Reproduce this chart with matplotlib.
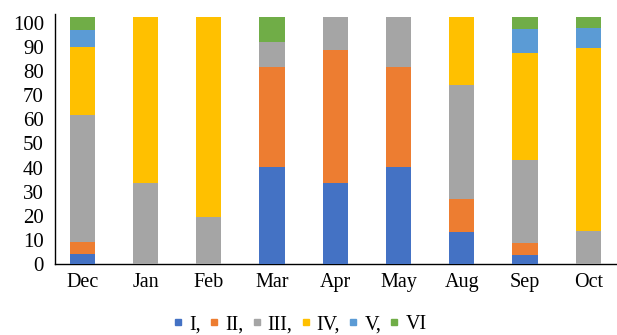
import matplotlib.pyplot as plt
from matplotlib.lines import Line2D
import numpy as np

plt.rcParams['font.family'] = 'Liberation Serif'

months = ['Dec', 'Jan', 'Feb', 'Mar', 'Apr', 'May', 'Aug', 'Sep', 'Oct']
groups = ['I,', 'II,', 'III,', 'IV,', 'V,', 'VI']

# share of each group per month (stacked bottom to top)
g1 = [4.1, 0.0, 0.0, 40.4, 33.5, 40.4, 13.2, 3.9, 0.0]
g2 = [5.1, 0.0, 0.0, 41.1, 55.1, 41.1, 13.8, 4.9, 0.0]
g3 = [52.5, 33.5, 19.7, 10.5, 13.6, 20.7, 47.1, 34.3, 13.9]
g4 = [28.0, 68.7, 82.5, 0.0, 0.0, 0.0, 28.1, 44.4, 75.6]
g5 = [7.4, 0.0, 0.0, 0.0, 0.0, 0.0, 0.0, 9.7, 8.4]
g6 = [5.1, 0.0, 0.0, 10.2, 0.0, 0.0, 0.0, 5.0, 4.3]

COLORS = ['#4472C4', '#ED7D31', '#A5A5A5', '#FFC000', '#5B9BD5', '#70AD47']

fig = plt.figure(figsize=(6.17, 3.35), dpi=100)
ax = fig.add_axes([0.0891, 0.211, 0.9085, 0.747])

x = np.arange(len(months))
bottom = np.zeros(len(months))
for vals, color in zip([g1, g2, g3, g4, g5, g6], COLORS):
    vals = np.array(vals)
    ax.bar(x, vals, 0.4, bottom=bottom, color=color, zorder=3)
    bottom += vals

ax.set_xlim(-0.43, 8.43)
ax.set_ylim(0, 103.5)
ax.set_yticks(np.arange(0, 101, 10))
ax.set_xticks(x)
ax.set_xticklabels(months)
ax.tick_params(axis='both', length=0)
ax.tick_params(axis='y', pad=8, labelsize=15)
ax.tick_params(axis='x', pad=6, labelsize=14.5)

for s in ['top', 'right']:
    ax.spines[s].set_visible(False)
ax.spines['left'].set_color('black')
ax.spines['bottom'].set_color('black')
ax.spines['left'].set_linewidth(1.0)
ax.spines['bottom'].set_linewidth(1.0)

handles = [Line2D([], [], marker='s', linestyle='none', markersize=4.5,
                  color=c) for c in COLORS]
fig.legend(handles, groups, loc='center', bbox_to_anchor=(0.486, 0.03),
           ncol=6, frameon=False, fontsize=14.5, handlelength=0.5,
           handletextpad=0.3, columnspacing=0.4, borderaxespad=0)

fig.savefig('out.png', dpi=100)
